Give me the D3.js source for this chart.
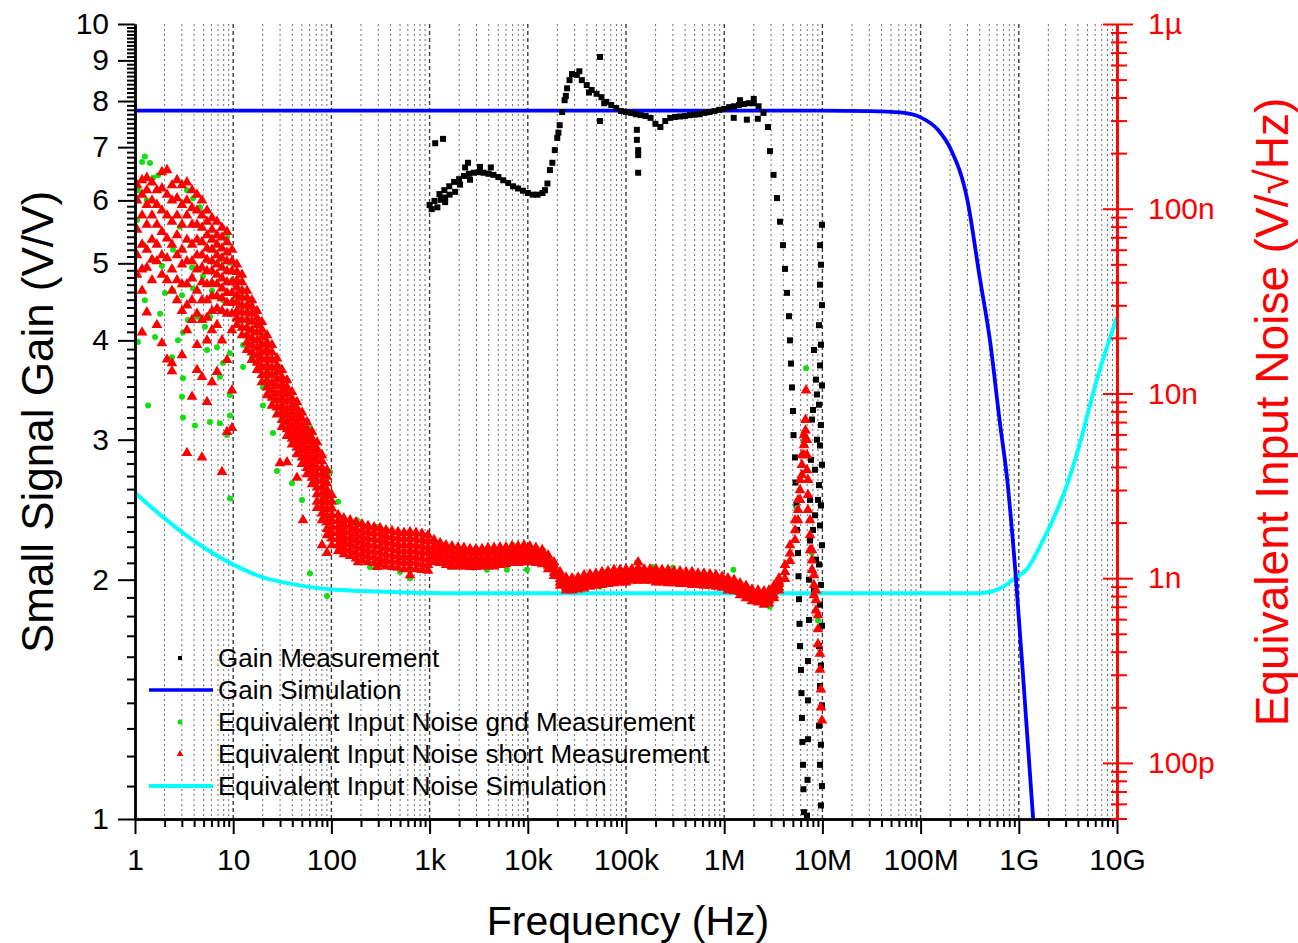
<!DOCTYPE html>
<html>
<head>
<meta charset="utf-8">
<script src="https://cdn.jsdelivr.net/npm/d3@7"></script>
<style>
body { margin: 0; background: #fff; }
svg { font-family: "Liberation Sans", Arial, sans-serif; }
</style>
</head>
<body>
<svg id="chart" width="1298" height="943"></svg>
<script>
// ---- tick labels ----
var freqTicks = [1, 10, 100, 1e3, 1e4, 1e5, 1e6, 1e7, 1e8, 1e9, 1e10];
var freqTickLabels = ["1", "10", "100", "1k", "10k", "100k", "1M", "10M", "100M", "1G", "10G"];
var gainTicks = [1, 2, 3, 4, 5, 6, 7, 8, 9, 10];
var noiseTicks = [1000, 100, 10, 1, 0.1];          // nV/sqrt(Hz)
var noiseTickLabels = ["1µ", "100n", "10n", "1n", "100p"];

// ---- legend ----
var legendLabels = ["Gain Measurement", "Gain Simulation", "Equivalent Input Noise gnd Measurement",
  "Equivalent Input Noise short Measurement", "Equivalent Input Noise Simulation"];

// ---- gain simulation (Hz, V/V) ----
var gainSimFreq = [1, 1e7, 3e7, 6.2e7, 1e8, 1.5e8, 2e8, 3e8, 4e8, 5.1e8, 6.4e8, 7.6e8, 9.2e8, 1.16e9, 1.4e9, 1.6e9];
var gainSimValue = [7.78, 7.78, 7.77, 7.74, 7.63, 7.36, 6.98, 6.0, 4.8, 3.99, 3.16, 2.68, 2.06, 1.39, 1.0, 0.8];

// ---- noise simulation (Hz, nV/sqrt(Hz)) ----
var noiseSimFreq = [1, 1.93, 4.28, 9.27, 20.1, 44.6, 96.8, 466, 2000, 1e5, 1e8, 4.02e8, 6.44e8, 9.15e8,
  1.21e9, 1.81e9, 2.89e9, 4.2e9, 5.31e9, 6.21e9, 7.73e9, 1e10];
var noiseSimValue = [2.9, 2.14, 1.55, 1.21, 1.01, 0.92, 0.87, 0.84, 0.83, 0.83, 0.83, 0.83, 0.88, 1.0,
  1.12, 1.65, 2.89, 5.39, 8.65, 11.8, 17.2, 25.9];

// ---- gain measurement (Hz, V/V) ----
var gainMeas = [
  [1000,5.92],[1122,5.99],[1259,6.11],[1413,6.18],[1585,6.25],[1778,6.33],[1995,6.38],[2239,6.44],
  [2512,6.48],[2818,6.5],[3162,6.51],[3548,6.5],[3981,6.48],[4467,6.46],[5012,6.42],[5623,6.36],
  [6310,6.31],[7079,6.25],[7943,6.21],[8913,6.17],[10000,6.13],[11220,6.1],[12590,6.1],[14130,6.13],
  [14960,6.18],[15850,6.3],[16790,6.55],[17780,6.69],[18840,6.94],[19950,7.19],[21130,7.46],[22390,7.75],
  [23710,8.02],[25120,8.3],[26610,8.5],[28180,8.65],[31620,8.63],[35480,8.5],[39810,8.38],[44670,8.26],
  [50120,8.17],[56230,8.09],[63100,7.98],[70790,7.91],[79430,7.84],[89130,7.77],[1e5,7.75],[112200,7.73],
  [125900,7.7],[141300,7.68],[158500,7.66],[177800,7.62],[199500,7.49],[223900,7.42],[251200,7.55],
  [281800,7.62],[316200,7.64],[354800,7.65],[398100,7.66],[446700,7.68],[501200,7.69],[562300,7.7],
  [631000,7.73],[707900,7.75],[794300,7.77],[891300,7.8],[1e6,7.82],[1122000,7.86],[1259000,7.88],
  [1413000,7.91],[1585000,7.93],[1778000,7.95],[1995000,7.95],[2239000,7.88],[2512000,7.73],
  [2790000,7.42],[2930000,6.92],[3180000,6.46],[3450000,6.04],[3700000,5.64],[3970000,5.27],
  [4160000,4.92],[4360000,4.59],[4570000,4.29],[4680000,4.0],[4790000,3.74],[4900000,3.49],
  [5020000,3.26],[5080000,3.04],[5260000,2.85],[5320000,2.65],[5450000,2.48],[5510000,2.31],
  [5650000,2.16],[5710000,2.02],[5780000,1.89],[5850000,1.76],[5920000,1.65],[6050000,1.54],
  [6120000,1.44],[6190000,1.34],[6260000,1.25],[6340000,1.17],[6410000,1.09],[6500000,1.02],
  // thicker parts of the band
  [1050,5.85],[1200,5.88],[1300,6.01],[1440,6.05],[1600,6.1],[1820,6.15],[2040,6.28],[2300,6.6],
  [2580,6.37],[3260,6.61],[4200,6.6],[1250000,7.62],[1450000,8.02],[1700000,7.58],[2000000,8.05],
  [2200000,7.6],[33500,8.72],[42000,8.2],[60000,7.95],[24400,8.12],[20500,7.3],
  // stray points
  [1140,7.08],[1370,7.17],[2460,6.69],[1440,5.97],[54300,9.09],[54300,7.55],[129000,7.36],
  [129000,7.15],[133000,6.94],[133000,6.84],[133000,6.5],
  // second falling branch
  [7830000,3.18],[7660000,2.83],[7480000,2.52],[7480000,2.24],[7310000,2.0],[7310000,1.78],
  [7130000,1.58],[7130000,1.41],[7130000,1.26],[7050000,1.12],[6970000,1.01],
  [8210000,3.89],[8610000,3.57],[8020000,3.27],[8810000,3.0],[8410000,2.75],[9020000,2.52],
  [8020000,2.31],[8610000,2.12],[8210000,1.94],[8810000,3.42],[8410000,2.41],
  // points near 10 MHz
  [9900000,5.59],[9450000,5.27],[9670000,4.98],[9450000,4.7],[9900000,4.43],[9230000,4.18],
  [9670000,3.95],[9450000,3.72],[9900000,3.51],[9230000,3.32],[9670000,3.13],[9450000,2.95],
  [9900000,2.79],[9230000,2.63],[9670000,2.48],[9450000,2.34],[9900000,2.21],[9230000,2.09],
  [9670000,1.97],[9450000,1.86],[9900000,1.75],[9230000,1.65],[9670000,1.56],[9450000,1.47],
  [9900000,1.39],[9230000,1.31],[9670000,1.24],[9450000,1.17],[9900000,1.1],[9670000,1.04]
];

// ---- noise short measurement: [Hz, [nV/sqrt(Hz) ...]] ----
var noiseShort = [
  [1.05,[134,111,77,56,44]],
  [1.18,[143,119,92,64,47,36,21.4]],
  [1.32,[147,126,105,82,60,48,27.5]],
  [1.49,[139,111,92,68,53,41]],
  [1.67,[126,105,82,64,52,23.5]],
  [1.88,[158,129,98,75,56,44,18.7]],
  [2.12,[162,119,92,69,54,41,15.3]],
  [2.38,[134,111,85,64,47,36,14.6,13.2]],
  [2.68,[143,114,92,72,56,41,32]],
  [3.01,[134,105,82,60,50,39,28,16.1]],
  [3.38,[139,111,92,68,52,39,30,22,4.76]],
  [3.81,[126,101,82,64,52,42,32,25,9.6]],
  [4.28,[119,98,82,68,56,47,36,27,18.3,13.4]],
  [4.81,[111,92,79,66,56,48,40,32,25,12.3,4.5]],
  [5.41,[98,85,72,61,53,46,39,32,25.7,19.4,9.0]],
  [6.08,[89,77,68,60,52,46,39.5,33.6,28,22,11.5]],
  [6.84,[85,72,64,56,50,44,39,33.6,28.8,23.5,13.1]],
  [7.69,[79,70,61,54,48,42,37,32.8,28,19.4,3.76]],
  [8.65,[75,66,58,52,46,40,35,31,27,15.2,6.2]],
  [9.72,[60,52,46,40,35,31,27,22,10.4,6.5]],
  [10.9,[50,45.5,41,37.5,34,31,28,25.6,23.5]],
  [12.3,[44,40,36,33,30,27.5,25,22.7,20.7]],
  [13.8,[36,33,30,27.5,25,22.7,20.7,18.9,17.2]],
  [15.5,[32,29.5,27,24.5,22,20,18.3,16.7,15.2]],
  [17.5,[28,25.6,23.5,21.4,19.4,17.7,16.1,14.7,13.4]],
  [19.6,[24.4,22.2,20.2,18.4,16.8,15.3,13.9,12.6,11.5]],
  [22.1,[20.7,18.9,17.2,15.6,14.2,13,11.8,10.8,9.8]],
  [24.8,[18.3,16.7,15.2,13.8,12.6,11.4,10.4,9.5,8.6]],
  [27.9,[15.5,14.2,13.1,12,11.0,10,9.2,8.4,7.7]],
  [31.4,[13.4,12.2,11.2,10.3,9.4,8.6,7.9,7.2,6.6]],
  [35.3,[11.8,10.8,9.9,9.1,8.3,7.6,7.0,6.4,5.9,4.25]],
  [39.7,[10.2,9.4,8.6,7.9,7.3,6.7,6.2,5.7,5.3]],
  [44.6,[9.0,8.3,7.6,7.0,6.4,5.9,5.5,5.1,4.7,3.5]],
  [50.2,[7.9,7.3,6.7,6.2,5.7,5.3,4.9,4.5,4.15]],
  [56.4,[7.0,6.4,5.95,5.5,5.05,4.65,4.3,3.95,3.66]],
  [63.5,[6.2,5.7,5.25,4.85,4.46,4.1,3.8,3.5,3.23]],
  [71.4,[5.45,5.0,4.64,4.3,3.95,3.65,3.36,3.1,2.85,2.6,2.4]],
  [80.2,[4.64,4.3,3.95,3.65,3.36,3.1,2.85,2.63,2.43,2.24,2.06,1.51]],
  [90.2,[3.85,3.55,3.27,3.0,2.79,2.57,2.37,2.18,2.01,1.85,1.71,1.37]],
  [101,[2.82,2.6,2.39,2.2,2.06,1.92,1.78,1.64,1.51]],
  [30.0,[4.2]],[51.4,[2.06]],[187,[1.22]],[291,[1.15]],
  [117,[2.2,2.04,1.89,1.76,1.63,1.51,1.4]],
  [134,[2.11,1.96,1.82,1.69,1.57,1.46,1.35]],
  [155,[2.06,1.92,1.78,1.65,1.53,1.42,1.32]],
  [178,[2.01,1.86,1.73,1.61,1.49,1.38,1.28]],
  [205,[1.96,1.82,1.69,1.57,1.46,1.35,1.25]],
  [236,[1.92,1.78,1.65,1.53,1.42,1.32,1.22]],
  [272,[1.89,1.76,1.63,1.51,1.4,1.3,1.21]],
  [313,[1.87,1.74,1.61,1.49,1.38,1.28,1.19]],
  [360,[1.82,1.69,1.57,1.46,1.35,1.25,1.16]],
  [414,[1.8,1.67,1.55,1.44,1.33,1.24,1.15]],
  [477,[1.78,1.65,1.53,1.42,1.32,1.23,1.14]],
  [549,[1.76,1.63,1.51,1.4,1.3,1.21,1.12]],
  [632,[1.78,1.65,1.53,1.42,1.32,1.23,1.14,1.04]],
  [727,[1.76,1.63,1.51,1.4,1.3,1.21,1.12]],
  [837,[1.74,1.61,1.49,1.38,1.28,1.19,1.11]],
  [963,[1.71,1.59,1.47,1.37,1.27,1.18,1.1]],
  [1110,[1.61,1.5,1.4,1.31,1.22]],
  [1280,[1.55,1.45,1.36,1.28,1.21]],
  [1470,[1.51,1.42,1.33,1.25,1.18]],
  [1690,[1.49,1.4,1.32,1.24,1.16]],
  [1950,[1.47,1.38,1.3,1.23,1.16]],
  [2240,[1.46,1.38,1.3,1.23,1.16]],
  [2580,[1.44,1.36,1.28,1.21,1.15]],
  [2970,[1.44,1.36,1.28,1.21,1.15]],
  [3420,[1.44,1.36,1.28,1.22,1.16]],
  [3930,[1.46,1.38,1.3,1.23,1.16]],
  [4530,[1.46,1.38,1.3,1.23,1.16]],
  [5210,[1.47,1.39,1.32,1.25,1.18]],
  [6000,[1.47,1.4,1.33,1.26,1.19]],
  [6900,[1.49,1.42,1.35,1.28,1.21]],
  [7950,[1.49,1.42,1.35,1.28,1.21]],
  [9150,[1.51,1.43,1.36,1.29,1.22]],
  [10500,[1.49,1.42,1.35,1.28,1.22]],
  [12100,[1.46,1.39,1.32,1.26,1.21]],
  [14000,[1.42,1.36,1.3,1.24,1.19]],
  [16100,[1.33,1.27,1.22,1.17,1.12]],
  [18500,[1.22,1.17,1.12,1.07,1.03]],
  [21300,[1.08,1.03,0.99,0.95,0.91]],
  [24500,[1.01,0.97,0.93,0.89,0.86]],
  [28200,[1.0,0.96,0.93,0.89,0.86]],
  [32500,[1.01,0.97,0.94,0.9,0.87]],
  [37400,[1.04,0.99,0.95,0.91,0.88]],
  [43000,[1.05,1.01,0.98,0.94,0.9]],
  [49500,[1.06,1.02,0.99,0.95,0.91]],
  [57000,[1.08,1.04,1.0,0.96,0.92]],
  [65600,[1.09,1.05,1.01,0.97,0.93]],
  [75500,[1.11,1.06,1.01,0.97,0.94]],
  [86900,[1.11,1.06,1.02,0.98,0.95]],
  [100000,[1.12,1.07,1.02,0.98,0.95]],
  [115000,[1.12,1.08,1.04,1.0,0.97]],
  [133000,[1.14,1.09,1.04,1.0,0.97,1.22]],
  [153000,[1.12,1.08,1.04,1.0,0.97]],
  [176000,[1.12,1.08,1.04,1.0,0.97]],
  [202000,[1.12,1.07,1.02,0.98,0.95]],
  [233000,[1.11,1.06,1.02,0.98,0.95]],
  [268000,[1.11,1.06,1.01,0.97,0.94]],
  [308000,[1.09,1.05,1.01,0.97,0.94]],
  [355000,[1.09,1.04,1.0,0.96,0.93]],
  [408000,[1.08,1.04,1.0,0.96,0.93]],
  [470000,[1.08,1.03,0.99,0.95,0.92]],
  [541000,[1.06,1.02,0.99,0.95,0.92]],
  [623000,[1.06,1.02,0.98,0.94,0.91]],
  [717000,[1.05,1.01,0.98,0.94,0.91]],
  [825000,[1.04,1.0,0.97,0.93,0.9]],
  [950000,[1.02,0.99,0.96,0.92,0.89]],
  [1090000,[1.0,0.96,0.93,0.89,0.86]],
  [1260000,[0.98,0.94,0.91,0.88,0.85]],
  [1450000,[0.94,0.9,0.87,0.84,0.81]],
  [1670000,[0.91,0.88,0.85,0.81,0.78]],
  [1920000,[0.87,0.84,0.81,0.78,0.75]],
  [2210000,[0.86,0.82,0.79,0.76,0.74]],
  [2540000,[0.85,0.81,0.78,0.75,0.72]],
  [2860000,[0.86,0.82,0.79,0.76,0.73]],
  [3210000,[0.91,0.88,0.85,0.81,0.78]],
  [3610000,[1.0,0.96,0.93,0.89,0.86]],
  [4160000,[1.18,1.08,0.99]],
  [4680000,[1.51,1.36,1.24]],
  [5260000,[2.06,1.82,1.61]],
  [5650000,[2.65,2.34,2.06]],
  [5920000,[3.4,3.0,2.65]],
  [6190000,[4.64,4.1,3.62]],
  [6500000,[5.95,5.25,4.64]],
  [6730000,[7.2,6.3,5.6]],
  [6810000,[10.4]],
  [6970000,[5.6,4.64,3.85]],
  [7130000,[3.4,2.82,2.34]],
  [7480000,[2.06,1.71,1.42]],
  [7830000,[1.42,1.25,1.11]],
  [8210000,[1.04,0.92,0.81]],
  [8610000,[0.86,0.76,0.67]],
  [9020000,[0.63,0.53,0.44]],
  [9450000,[0.39,0.32]],
  [9670000,[0.25,0.2]],
  [9900000,[0.17]]
];

// ---- noise gnd measurement (Hz, nV/sqrt(Hz)) ----
var noiseGnd = [
  [1.26,192],[1.18,179],[1.42,177],[1.53,147],[1.72,152],[1.07,126],[1.32,111],[1.05,87],[1.21,64],
  [1.6,52],[1.88,49],[2.02,35],[2.44,36],[3.01,34],[3.38,126],[3.9,114],[4.59,102],[2.87,80],[2.44,60],
  [3.08,60],[3.81,48],[3.9,37],[4.28,26],[5.16,23],[5.8,26],[3.08,21.4],[3.46,25],[2.74,19.4],
  [2.38,15.7],[3.08,12.1],[3.01,9.6],[3.08,7.4],[4.08,6.7],[5.8,7.0],[7.33,6.9],[9.27,7.6],[8.65,5.95],
  [5.41,17.2],[6.84,17.8],[7.87,14.6],[7.33,12.3],[9.27,16.5],[1.36,8.6],[1.07,19.0],[1.6,20.2],
  [1.26,32],[1.8,27],[9.27,9.8],[9.27,2.7],[6.22,60],[7.33,53],[8.65,70],[9.27,51],[9.72,41],
  [4.92,43],[6.08,36],[7.87,32],
  [12.6,13.9],[20.1,8.6],[25.4,6.1],[27.9,3.8],[39.7,3.27],[50.2,2.65],[60.5,1.06],[90.2,0.8],
  [12.6,18.3],[15.5,15.6],[20.1,10.8],[25.4,15.2],[36.1,10.4],[47.9,7.8],[60.5,6.5],[73.1,4.76],
  [96.8,3.77],[117,2.59],[182,2.06],[291,1.89],[368,1.82],[500,1.08],[632,1.0],[247,1.15],[144,1.61],
  [14.8,25],[10.9,32],[20.1,21.2],[30.0,13.9],
  [941,1.71],[1370,1.51],[2290,1.44],[6140,1.11],[7070,1.51],[9810,1.11],[14300,1.42],[15000,1.18],
  [40100,0.92],[54300,0.9],[64000,1.08],[129000,1.22],[188000,1.15],[301000,1.14],[615000,0.92],
  [1240000,1.11],[1830000,0.86],[2920000,0.7],[3700000,0.89],[857,1.11],[1610,1.15],[2770,1.14],
  [3840,1.11],
  [6810000,13.7],[5510000,2.4],[7830000,1.37],[9020000,0.59],[6500000,5.6]
];

// ---- scales ----
var svg = d3.select("#chart");
var x = d3.scaleLog().domain([1, 1e10]).range([135, 1117]);
var yGain = d3.scaleLog().domain([1, 10]).range([819, 24]);
var yNoise = d3.scaleLog().domain([0.0497, 1000]).range([819, 24]);

// minor frequency positions
var minorFreq = [];
for (var e = 0; e < 10; e++) {
  for (var m = 2; m < 10; m++) minorFreq.push(m * Math.pow(10, e));
}

// grid
svg.append("g").selectAll("line").data(minorFreq).enter().append("line")
  .attr("x1", d => x(d)).attr("x2", d => x(d))
  .attr("y1", 24).attr("y2", 819)
  .attr("stroke", "#6e6e6e").attr("stroke-width", 1).attr("stroke-dasharray", "2,3");
svg.append("g").selectAll("line").data(freqTicks.slice(1)).enter().append("line")
  .attr("x1", d => x(d)).attr("x2", d => x(d))
  .attr("y1", 24).attr("y2", 819)
  .attr("stroke", "#3c3c3c").attr("stroke-width", 1.4).attr("stroke-dasharray", "4,3");

svg.append("clipPath").attr("id", "plotclip").append("rect")
  .attr("x", 135).attr("y", 24).attr("width", 982).attr("height", 795);
var plot = svg.append("g").attr("clip-path", "url(#plotclip)");

// noise simulation (cyan)
var noiseSim = noiseSimFreq.map((f, i) => [f, noiseSimValue[i]]);
plot.append("path").datum(noiseSim)
  .attr("fill", "none").attr("stroke", "#00ffff").attr("stroke-width", 4)
  .attr("d", d3.line().x(d => x(d[0])).y(d => yNoise(d[1])).curve(d3.curveMonotoneX));

// gain simulation (blue)
var gainSim = gainSimFreq.map((f, i) => [f, gainSimValue[i]]);
plot.append("path").datum(gainSim)
  .attr("fill", "none").attr("stroke", "#0000ff").attr("stroke-width", 3.8)
  .attr("d", d3.line().x(d => x(d[0])).y(d => yGain(d[1])).curve(d3.curveMonotoneX));

// gain measurement (black squares)
plot.append("g").selectAll("rect").data(gainMeas).enter().append("rect")
  .attr("x", d => x(d[0]) - 3).attr("y", d => yGain(d[1]) - 3)
  .attr("width", 6).attr("height", 6).attr("fill", "#000");

// noise gnd (green circles)
plot.append("g").selectAll("circle").data(noiseGnd).enter().append("circle")
  .attr("cx", d => x(d[0])).attr("cy", d => yNoise(d[1]))
  .attr("r", 3).attr("fill", "#10e010");

// noise short (red triangles)
var shortPts = [];
noiseShort.forEach(function (c) { c[1].forEach(function (v) { shortPts.push([c[0], v]); }); });
var tri = d3.symbol().type(d3.symbolTriangle).size(50);
plot.append("g").selectAll("path").data(shortPts).enter().append("path")
  .attr("d", tri)
  .attr("transform", d => "translate(" + x(d[0]) + "," + yNoise(d[1]) + ")")
  .attr("fill", "#ff0000");

// ---- axes ----
function styleAxis(g, color, width) {
  g.attr("font-size", 30).attr("font-family", null);
  g.select(".domain").attr("stroke", color).attr("stroke-width", width);
  g.selectAll(".tick line").attr("stroke", color).attr("stroke-width", 2);
  g.selectAll(".tick text").attr("fill", color);
}

// bottom
svg.append("g").attr("transform", "translate(0,819)")
  .call(d3.axisBottom(x).tickValues(minorFreq).tickFormat("").tickSize(8).tickSizeOuter(0))
  .call(g => styleAxis(g, "#000", 2.5));
svg.append("g").attr("transform", "translate(0,819)")
  .call(d3.axisBottom(x).tickValues(freqTicks).tickFormat((d, i) => freqTickLabels[i])
    .tickSize(15).tickPadding(15).tickSizeOuter(0))
  .call(g => styleAxis(g, "#000", 2.5));

// left
var gainMinor = [];
for (var a = 1; a < 10; a++) for (var b = 1; b < 10; b++) gainMinor.push(+(a + b / 10).toFixed(1));
svg.append("g").attr("transform", "translate(135,0)")
  .call(d3.axisLeft(yGain).tickValues(gainMinor).tickFormat("").tickSize(8).tickSizeOuter(0))
  .call(g => styleAxis(g, "#000", 2.5));
svg.append("g").attr("transform", "translate(135,0)")
  .call(d3.axisLeft(yGain).tickValues(gainTicks).tickFormat(d3.format("d"))
    .tickSize(17).tickPadding(9).tickSizeOuter(0))
  .call(g => styleAxis(g, "#000", 2.5));

// right (red)
var noiseMinor = [];
[0.01, 0.1, 1, 10, 100].forEach(function (dec) {
  for (var k = 2; k < 10; k++) {
    var v = k * dec;
    if (v >= 0.05 && v < 1000) noiseMinor.push(v);
  }
});
svg.append("g").attr("transform", "translate(1117,0)")
  .call(d3.axisRight(yNoise).tickValues(noiseMinor).tickFormat("").tickSize(10).tickSizeOuter(0))
  .call(g => styleAxis(g, "#ff0000", 2.5))
  .call(g => g.selectAll(".tick line").attr("x1", -6));
svg.append("g").attr("transform", "translate(1117,0)")
  .call(d3.axisRight(yNoise).tickValues(noiseTicks).tickFormat((d, i) => noiseTickLabels[i])
    .tickSize(16).tickPadding(15).tickSizeOuter(0))
  .call(g => styleAxis(g, "#ff0000", 2.5))
  .call(g => g.selectAll(".tick line").attr("x1", -14));

// ---- axis titles ----
svg.append("text")
  .attr("transform", "translate(53,422) rotate(-90)")
  .attr("text-anchor", "middle").attr("font-size", 44).attr("fill", "#000")
  .text("Small Signal Gain (V/V)");
svg.append("text")
  .attr("x", 628).attr("y", 935)
  .attr("text-anchor", "middle").attr("font-size", 41).attr("fill", "#000")
  .text("Frequency (Hz)");
svg.append("text")
  .attr("transform", "translate(1288,412) rotate(-90)")
  .attr("text-anchor", "middle").attr("font-size", 46).attr("fill", "#ff0000")
  .text("Equivalent Input Noise (V/√Hz)");

// ---- legend ----
var legend = svg.append("g");
legendLabels.forEach(function (label, i) {
  var cy = 658 + i * 32;
  var row = legend.append("g");
  if (i === 0) {
    row.append("rect").attr("x", 178).attr("y", cy - 2).attr("width", 4).attr("height", 4).attr("fill", "#000");
  } else if (i === 1 || i === 4) {
    row.append("line").attr("x1", 149).attr("x2", 213).attr("y1", cy).attr("y2", cy)
      .attr("stroke", i === 1 ? "#0000ff" : "#00ffff").attr("stroke-width", i === 1 ? 3.5 : 4);
  } else if (i === 2) {
    row.append("circle").attr("cx", 180).attr("cy", cy).attr("r", 2.5).attr("fill", "#10e010");
  } else {
    row.append("path").attr("d", d3.symbol().type(d3.symbolTriangle).size(20))
      .attr("transform", "translate(180," + cy + ")").attr("fill", "#ff0000");
  }
  row.append("text").attr("x", 218).attr("y", cy).attr("dy", "0.36em")
    .attr("font-size", 26).attr("fill", "#000").text(label);
});
</script>
</body>
</html>
